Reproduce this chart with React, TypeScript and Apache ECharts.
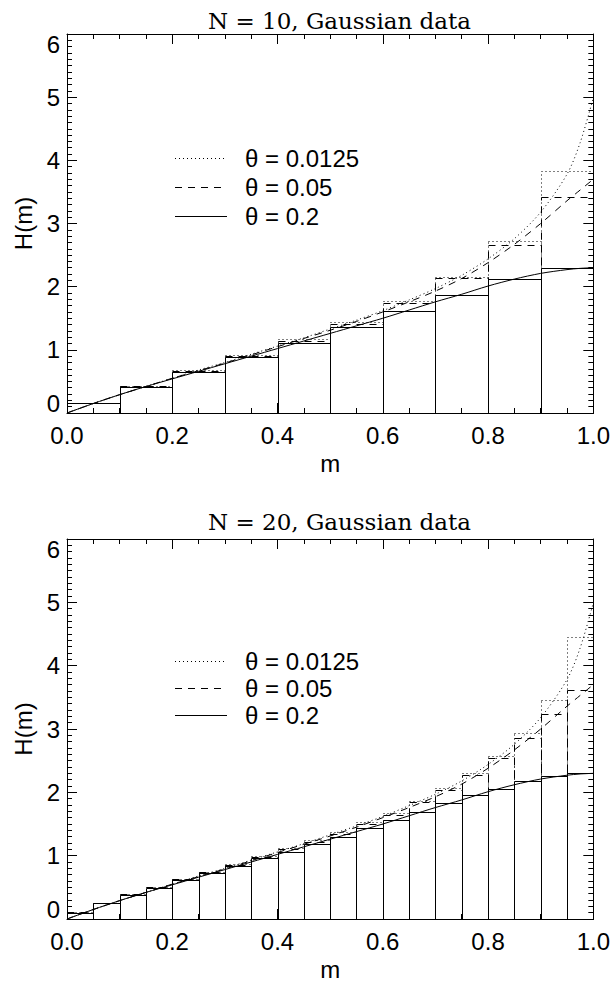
import React, { useEffect, useRef } from "react";
import * as echarts from "echarts";

// ---------- data ----------
const TITLES = ["N = 10, Gaussian data", "N = 20, Gaussian data"];
const X_TICK_LABELS = ["0.0", "0.2", "0.4", "0.6", "0.8", "1.0"];
const Y_TICK_LABELS = ["0", "1", "2", "3", "4", "5", "6"];
const LEGEND_LABELS = ["θ = 0.0125", "θ = 0.05", "θ = 0.2"];

// bin edges
const EDGES_10 = [0.0, 0.1, 0.2, 0.3, 0.4, 0.5, 0.6, 0.7, 0.8, 0.9, 1.0];
const EDGES_20 = [0.0, 0.05, 0.1, 0.15, 0.2, 0.25, 0.3, 0.35, 0.4, 0.45, 0.5, 0.55, 0.6, 0.65, 0.7, 0.75, 0.8, 0.85, 0.9, 0.95, 1.0];

// N = 10 histograms
const H10_DOTTED = [0.16, 0.43, 0.68, 0.92, 1.17, 1.44, 1.77, 2.15, 2.73, 3.83];
const H10_DASHED = [0.16, 0.42, 0.67, 0.91, 1.14, 1.41, 1.74, 2.14, 2.66, 3.42];
const H10_SOLID = [0.16, 0.41, 0.65, 0.88, 1.11, 1.36, 1.61, 1.87, 2.12, 2.29];

// N = 20 histograms
const H20_DOTTED = [0.11, 0.26, 0.39, 0.51, 0.63, 0.75, 0.87, 0.99, 1.12, 1.25, 1.38, 1.53, 1.68, 1.86, 2.07, 2.30, 2.57, 2.94, 3.46, 4.45];
const H20_DASHED = [0.11, 0.26, 0.39, 0.50, 0.63, 0.74, 0.86, 0.98, 1.10, 1.22, 1.35, 1.50, 1.65, 1.84, 2.04, 2.27, 2.54, 2.86, 3.24, 3.62];
const H20_SOLID = [0.10, 0.25, 0.38, 0.49, 0.62, 0.73, 0.84, 0.96, 1.06, 1.18, 1.30, 1.43, 1.56, 1.69, 1.83, 1.96, 2.06, 2.18, 2.26, 2.30];

// theoretical curves
const CURVE_M = [0, 0.05, 0.1, 0.15, 0.2, 0.25, 0.3, 0.35, 0.4, 0.45, 0.5, 0.55, 0.6, 0.65, 0.7, 0.75, 0.8, 0.85, 0.9, 0.95, 0.975, 1.0];
const CURVE_DOTTED = [0, 0.15, 0.29, 0.42, 0.55, 0.68, 0.80, 0.93, 1.06, 1.19, 1.33, 1.47, 1.62, 1.79, 1.97, 2.18, 2.44, 2.76, 3.18, 3.78, 4.28, 4.99];
const CURVE_DASHED = [0, 0.15, 0.29, 0.42, 0.55, 0.67, 0.79, 0.92, 1.05, 1.18, 1.31, 1.45, 1.60, 1.76, 1.93, 2.13, 2.38, 2.67, 3.00, 3.36, 3.53, 3.70];
const CURVE_SOLID = [0, 0.15, 0.29, 0.42, 0.54, 0.66, 0.78, 0.90, 1.02, 1.14, 1.26, 1.38, 1.50, 1.63, 1.76, 1.88, 2.01, 2.12, 2.21, 2.27, 2.29, 2.30];

// ---------- styling ----------
const DOT: number[] = [1, 3];
const DASH: number[] = [7, 6];
const FONT = "Liberation Sans";
const TITLE_FONT = "DejaVu Serif";

const GRIDS = [
  { left: 67, top: 34, width: 535, height: 379 },
  { left: 67, top: 539, width: 535, height: 380 },
];
const LEGEND_Y = [
  [158, 187, 216],
  [661, 688, 715],
];
const TITLE_Y = [4, 505];

function histData(edges: number[], vals: number[]) {
  return vals.map((v, i) => [edges[i], edges[i + 1], v]);
}

function histSeries(edges: number[], vals: number[], dash: number[] | null, axis: number) {
  return {
    type: "custom",
    xAxisIndex: axis * 2,
    yAxisIndex: axis * 2,
    data: histData(edges, vals),
    encode: { x: [0, 1], y: 2 },
    silent: true,
    renderItem: (params: any, api: any) => {
      const p0 = api.coord([api.value(0), api.value(2)]);
      const p1 = api.coord([api.value(1), 0]);
      const x0 = Math.round(p0[0]) + 0.5;
      const x1 = Math.round(p1[0]) + 0.5;
      const y0 = Math.round(p0[1]) + 0.5;
      const y1 = Math.round(p1[1]) + 0.5;
      return {
        type: "rect",
        shape: { x: x0, y: y0, width: x1 - x0, height: y1 - y0 },
        style: { fill: "none", stroke: "#000", lineWidth: 1, lineDash: dash || undefined },
      };
    },
  };
}

function curveSeries(vals: number[], dash: number[] | "solid", axis: number) {
  return {
    type: "line",
    xAxisIndex: axis * 2,
    yAxisIndex: axis * 2,
    data: CURVE_M.map((m, i) => [m, vals[i]]),
    showSymbol: false,
    smooth: 0.3,
    silent: true,
    lineStyle: { color: "#000", width: 1, type: dash },
  };
}

function xAxis(gridIndex: number, position: "top" | "bottom") {
  const main = position === "bottom";
  return {
    type: "value",
    gridIndex,
    position,
    min: 0,
    max: 1,
    interval: 0.2,
    name: main ? "m" : "",
    nameLocation: "middle",
    nameGap: 38,
    nameTextStyle: { color: "#000", fontFamily: FONT, fontSize: 24 },
    axisLine: { show: true, onZero: false, lineStyle: { color: "#000", width: 1 } },
    axisTick: { show: true, inside: true, length: 10, lineStyle: { color: "#000", width: 1 } },
    minorTick: { show: true, splitNumber: 4, length: 5, lineStyle: { color: "#000", width: 1 } },
    splitLine: { show: false },
    minorSplitLine: { show: false },
    axisLabel: {
      show: main,
      color: "#000",
      fontFamily: FONT,
      fontSize: 24,
      margin: 10,
      formatter: (v: number) => X_TICK_LABELS[Math.round(v / 0.2)],
    },
  };
}

function yAxis(gridIndex: number, position: "left" | "right") {
  const main = position === "left";
  return {
    type: "value",
    gridIndex,
    position,
    min: 0,
    max: 6,
    interval: 1,
    name: main ? "H(m)" : "",
    nameLocation: "middle",
    nameGap: 30,
    nameTextStyle: { color: "#000", fontFamily: FONT, fontSize: 24 },
    axisLine: { show: true, onZero: false, lineStyle: { color: "#000", width: 1 } },
    axisTick: { show: true, inside: true, length: 10, lineStyle: { color: "#000", width: 1 } },
    minorTick: { show: true, splitNumber: 10, length: 5, lineStyle: { color: "#000", width: 1 } },
    splitLine: { show: false },
    minorSplitLine: { show: false },
    axisLabel: {
      show: main,
      color: "#000",
      fontFamily: FONT,
      fontSize: 24,
      margin: 7,
      lineHeight: 20,
      verticalAlignMinLabel: "bottom",
      verticalAlignMaxLabel: "top",
      formatter: (v: number) => Y_TICK_LABELS[Math.round(v)],
    },
  };
}

function legendGraphics(p: number) {
  const styles: (number[] | null)[] = [DOT, DASH, null];
  const out: any[] = [];
  LEGEND_LABELS.forEach((label, i) => {
    const y = LEGEND_Y[p][i] + 0.5;
    out.push({
      type: "line",
      shape: { x1: 175, y1: y, x2: 227, y2: y },
      style: { stroke: "#000", lineWidth: 1, lineDash: styles[i] || undefined },
      silent: true,
    });
    out.push({
      type: "text",
      x: 245,
      y: LEGEND_Y[p][i],
      style: {
        text: label,
        fill: "#000",
        fontFamily: FONT,
        fontSize: 24,
        verticalAlign: "middle",
        align: "left",
      },
      silent: true,
    });
  });
  return out;
}

export default function App() {
  const ref = useRef<HTMLDivElement>(null);
  useEffect(() => {
    if (!ref.current) return;
    const chart = echarts.init(ref.current, undefined, { renderer: "svg" });
    const option: any = {
      animation: false,
      backgroundColor: "#fff",
      title: TITLES.map((t, i) => ({
        text: t,
        left: GRIDS[i].left + GRIDS[i].width / 2,
        top: TITLE_Y[i],
        textAlign: "center",
        textStyle: { color: "#000", fontFamily: TITLE_FONT, fontSize: 23, fontWeight: "normal" },
      })),
      grid: GRIDS.map((g) => ({ ...g, containLabel: false })),
      xAxis: [xAxis(0, "bottom"), xAxis(0, "top"), xAxis(1, "bottom"), xAxis(1, "top")],
      yAxis: [yAxis(0, "left"), yAxis(0, "right"), yAxis(1, "left"), yAxis(1, "right")],
      series: [
        histSeries(EDGES_10, H10_DOTTED, DOT, 0),
        histSeries(EDGES_10, H10_DASHED, DASH, 0),
        histSeries(EDGES_10, H10_SOLID, null, 0),
        curveSeries(CURVE_DOTTED, DOT, 0),
        curveSeries(CURVE_DASHED, DASH, 0),
        curveSeries(CURVE_SOLID, "solid", 0),
        histSeries(EDGES_20, H20_DOTTED, DOT, 1),
        histSeries(EDGES_20, H20_DASHED, DASH, 1),
        histSeries(EDGES_20, H20_SOLID, null, 1),
        curveSeries(CURVE_DOTTED, DOT, 1),
        curveSeries(CURVE_DASHED, DASH, 1),
        curveSeries(CURVE_SOLID, "solid", 1),
      ],
      graphic: [...legendGraphics(0), ...legendGraphics(1)],
    };
    chart.setOption(option);
    return () => chart.dispose();
  }, []);
  return (
    <div
      ref={ref}
      style={{ position: "fixed", left: 0, top: 0, width: 613, height: 984, background: "#fff" }}
    />
  );
}
